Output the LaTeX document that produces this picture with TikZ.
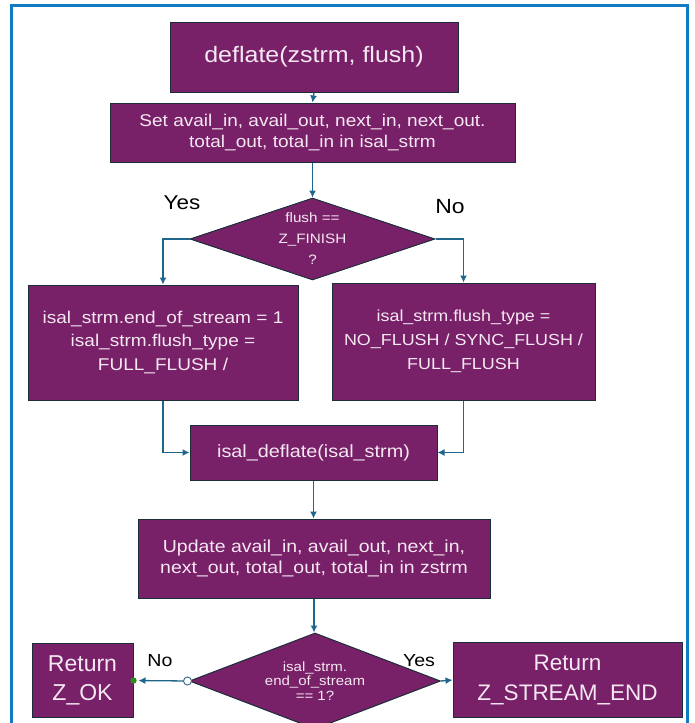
\documentclass[tikz,border=0pt]{standalone}
\usepackage{fontspec}
\setmainfont{Liberation Sans}
\newfontfamily\widefont[FakeStretch=1.12]{Liberation Sans}
\usetikzlibrary{shapes.geometric,arrows.meta}
\definecolor{boxfill}{RGB}{120,32,104}
\definecolor{boxline}{RGB}{28,45,58}
\definecolor{arrowc}{RGB}{31,102,140}
\definecolor{frame}{RGB}{16,124,196}
\definecolor{dotgreen}{RGB}{40,140,30}
\definecolor{txt}{RGB}{245,232,242}
\newcommand{\fs}[2]{\widefont\fontsize{#1}{#2}\selectfont}
\tikzset{
  proc/.style={draw=boxline, line width=1pt, fill=boxfill, text=txt, align=center, inner sep=0pt},
  decide/.style={diamond, draw=boxline, line width=1pt, fill=boxfill, text=txt, align=center, inner sep=0pt, aspect=3},
  conn/.style={draw=arrowc, line width=1.3pt, -{Latex[length=7pt,width=7pt]}},
  lbl/.style={text=black, inner sep=0pt}
}
\begin{document}
\begin{tikzpicture}[x=1pt,y=-1pt]
\useasboundingbox (0,0) rectangle (695,723);
\begin{scope}
\clip (0,0) rectangle (695,723);
\draw[frame, line width=3pt] (11.5,5.5) -- (687.5,5.5) -- (687.5,740) -- (11.5,740) -- cycle;
\end{scope}

\node[proc, minimum width=288pt, minimum height=70pt, font=\fs{22.3}{26}] (top) at (314,57) {deflate(zstrm, flush)};
\node[proc, minimum width=405pt, minimum height=59pt, font=\fs{17}{21}] (set) at (312.5,132.5) {Set avail\_in, avail\_out, next\_in, next\_out.\\total\_out, total\_in in isal\_strm};
\node[decide, minimum width=245pt, minimum height=82pt, font=\fs{13.6}{21}] (d1) at (312.5,239) {flush ==\\Z\_FINISH\\?};
\node[proc, minimum width=270pt, minimum height=115pt, font=\fs{17}{23.5}] (left) at (163,342.5) {isal\_strm.end\_of\_stream = 1\\isal\_strm.flush\_type =\\FULL\_FLUSH /};
\node[proc, minimum width=263pt, minimum height=117pt, font=\fs{16}{24}] (right) at (463.5,341.5) {isal\_strm.flush\_type =\\NO\_FLUSH / SYNC\_FLUSH /\\FULL\_FLUSH};
\node[proc, minimum width=247pt, minimum height=55pt, font=\fs{17.7}{21}] (isal) at (313.5,452.5) {isal\_deflate(isal\_strm)};
\node[proc, minimum width=352pt, minimum height=79pt, font=\fs{17.4}{21}] (upd) at (314,558.5) {Update avail\_in, avail\_out, next\_in,\\next\_out, total\_out, total\_in in zstrm};
\node[decide, minimum width=251pt, minimum height=96pt, font=\fs{13.4}{14.5}] (d2) at (315,681) {isal\_strm.\\end\_of\_stream\\== 1?};
\node[proc, minimum width=101pt, minimum height=74pt, font=\fontsize{23}{29}\selectfont] (zok) at (82.5,680.5) {Return\\Z\_OK};
\node[proc, minimum width=229pt, minimum height=75pt, font=\fontsize{22.5}{29.5}\selectfont] (zse) at (567.5,680) {Return\\Z\_STREAM\_END};

\node[lbl, font=\fs{20}{24}] (yes1) at (182,203) {Yes};
\node[lbl, font=\fs{20.5}{24}] (no1) at (450,207) {No};
\node[lbl, font=\fs{17.5}{20}] (no2) at (160,661) {No};
\node[lbl, font=\fs{17.5}{20}] (yes2) at (419,661) {Yes};

\draw[conn] (top.south) -- (set.north);
\draw[conn] (set.south) -- (set.south |- d1.north);
\draw[conn] (d1.west) -| (left.north);
\draw[conn] (d1.east) -| (right.north);
\draw[conn] (left.south) |- (isal.west);
\draw[conn] (right.south) |- (isal.east);
\draw[conn] (isal.south) -- (isal.south |- upd.north);
\draw[conn] (upd.south) -- (upd.south |- d2.north);
\draw[conn, shorten >=5pt] (d2.west) -- (zok.east);
\draw[conn] (d2.east) -- (zse.west);
\draw[arrowc!60!gray, fill=white, line width=1pt] (d2.west) ++(-1.5,0) circle (4pt);
\fill[dotgreen] (zok.east) circle (3.2pt);
\end{tikzpicture}
\end{document}
